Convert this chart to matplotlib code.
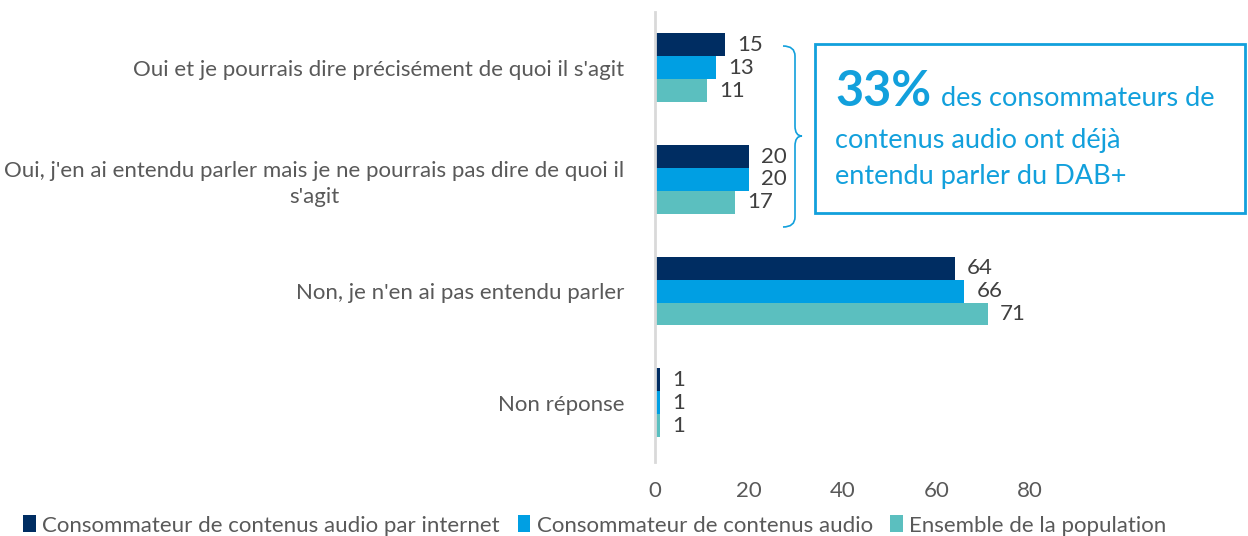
import matplotlib.pyplot as plt
from matplotlib.patches import Rectangle, PathPatch
from matplotlib.path import Path

# Data
categories = [
    "Oui et je pourrais dire précisément de quoi il s'agit",
    "Oui, j'en ai entendu parler mais je ne pourrais pas dire de quoi il\ns'agit",
    "Non, je n'en ai pas entendu parler",
    "Non réponse",
]
series_names = [
    "Consommateur de contenus audio par internet",
    "Consommateur de contenus audio",
    "Ensemble de la population",
]
internet = [15, 20, 64, 1]
audio = [13, 20, 66, 1]
population = [11, 17, 71, 1]
colors = ["#002D62", "#009FE3", "#5BBFBF"]

plt.rcParams['font.family'] = ['Lato', 'DejaVu Sans']

W, H = 1248, 536
fs = 16
fig = plt.figure(figsize=(W / 100, H / 100), dpi=100)
ax = fig.add_axes([655 / W, 1 - 462 / H, (1030 - 655) / W, (462 - 12) / H])

bh = 0.205
for i, (vals, col) in enumerate(zip([internet, audio, population], colors)):
    ys = [k + (i - 1) * bh for k in range(len(categories))]
    ax.barh(ys, vals, height=bh, color=col, label=series_names[i])
    for y, v in zip(ys, vals):
        ax.text(v + 2.6, y, str(v), va='center', ha='left', fontsize=fs, color='#404040')

ax.set_xlim(0, 80)
ax.set_ylim(3.53, -0.5)
ax.set_yticks(range(len(categories)))
ax.set_yticklabels(categories, fontsize=fs, color='#595959', multialignment='center',
                   linespacing=1.35)
ax.set_xticks([0, 20, 40, 60, 80])
ax.tick_params(axis='x', labelsize=fs, labelcolor='#595959', length=0, pad=14)
ax.tick_params(axis='y', length=0, pad=22)
for s in ['top', 'right', 'bottom']:
    ax.spines[s].set_visible(False)
ax.spines['left'].set_color('#D9D9D9')
ax.spines['left'].set_linewidth(2)

# legend
fig.legend(loc='lower left', bbox_to_anchor=(10 / W, -0.024), ncol=3, frameon=False,
           fontsize=fs, handlelength=0.55, handleheight=0.8, handletextpad=0.3,
           columnspacing=0.8, labelcolor='#595959', borderaxespad=0.2)


def fx(px):
    return px / W


def fy(py):
    return 1 - py / H


# brace
blue = '#12A0DC'
verts = [(783, 46), (795, 46), (795, 56), (795, 126), (795, 136), (802, 136),
         (795, 136), (795, 146), (795, 217), (795, 227), (783, 227)]
codes = [Path.MOVETO, Path.CURVE3, Path.CURVE3, Path.LINETO, Path.CURVE3, Path.CURVE3,
         Path.CURVE3, Path.CURVE3, Path.LINETO, Path.CURVE3, Path.CURVE3]
verts = [(fx(x), fy(y)) for x, y in verts]
fig.add_artist(PathPatch(Path(verts, codes), transform=fig.transFigure,
                         fill=False, edgecolor=blue, lw=1.2))

# callout box
fig.add_artist(Rectangle((fx(815), fy(213)), fx(1245) - fx(815), fy(44) - fy(213),
                         transform=fig.transFigure, fill=False, edgecolor=blue, lw=2))
t33 = fig.text(fx(835), fy(106), "33%", fontsize=35, fontweight='bold', color=blue,
               va='baseline', ha='left')
fig.canvas.draw()
bb = t33.get_window_extent()
fig.text((bb.x1 + 10) / W, fy(106), "des consommateurs de", fontsize=19.5, color=blue,
         va='baseline', ha='left')
fig.text(fx(835), fy(148), "contenus audio ont déjà", fontsize=19.5, color=blue,
         va='baseline', ha='left')
fig.text(fx(835), fy(184), "entendu parler du DAB+", fontsize=19.5, color=blue,
         va='baseline', ha='left')

fig.savefig('out.png', dpi=100)
